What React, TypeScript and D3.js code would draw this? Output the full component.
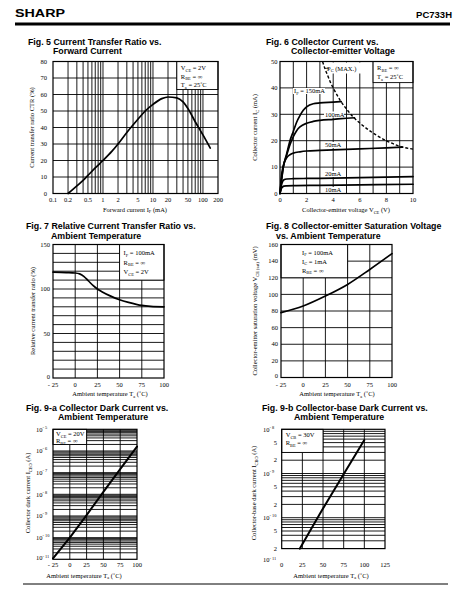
import React from "react";
import * as d3 from "d3";

const W = 467;
const H = 611;
const SERIF = '"Liberation Serif", "Times New Roman", serif';
const SANS = '"Liberation Sans", Arial, Helvetica, sans-serif';
const FS = 6.5;

// ---------- Fig. 5 data ----------
const fig5IF = [0.2, 0.25, 0.3, 0.4, 0.5, 0.7, 1, 1.5, 2, 3, 5, 7, 10, 15, 20, 30, 40, 50, 70, 100, 140];
const fig5CTR = [0, 2.5, 4.6, 8, 11, 15.5, 20, 25.5, 30, 37, 45, 50, 54, 57.5, 58.5, 58, 55.5, 51.5, 43.5, 35.5, 27.5];
const fig5XTicks = [0.1, 0.2, 0.5, 1, 2, 5, 10, 20, 50, 100, 200];
const fig5XLabels = ["0.1", "0.2", "0.5", "1", "2", "5", "10", "20", "50", "100", "200"];
const fig5YTicks = [0, 10, 20, 30, 40, 50, 60, 70, 80];

// ---------- Fig. 6 data ----------
const fig6V150 = [0, 0.1, 0.25, 0.5, 0.75, 1, 1.25, 1.5, 1.75, 2, 2.5, 3, 4, 4.6];
const fig6I150 = [0, 4.5, 10, 15, 20, 23.5, 27, 29.5, 31.5, 32.8, 34, 34.3, 34.6, 34.8];
const fig6V100 = [0, 0.1, 0.25, 0.5, 0.75, 1, 1.25, 1.5, 2, 2.5, 3, 4, 5, 5.6];
const fig6I100 = [0, 4.5, 10, 14.5, 18.5, 21.5, 23.8, 25.2, 26.6, 27.3, 27.7, 28.1, 28.5, 28.7];
const fig6V50 = [0, 0.05, 0.1, 0.2, 0.3, 0.5, 0.75, 1, 1.5, 2, 3, 4, 6, 8, 9.2];
const fig6I50 = [0, 3, 6, 9.5, 11.5, 13.5, 14.7, 15.3, 15.8, 16.1, 16.3, 16.5, 16.9, 17.3, 17.6];
const fig6V20 = [0, 0.05, 0.1, 0.2, 0.3, 0.5, 1, 2, 4, 6, 8, 10];
const fig6I20 = [0, 1.5, 3, 4.6, 5.2, 5.5, 5.6, 5.7, 5.8, 6.0, 6.2, 6.4];
const fig6V10 = [0, 0.05, 0.1, 0.2, 0.3, 0.5, 1, 3, 6, 10];
const fig6I10 = [0, 1, 1.8, 2.5, 2.8, 2.9, 3.0, 3.1, 3.3, 3.5];
const fig6PcV = [3.2, 3.4, 3.6, 3.8, 4, 4.5, 5, 5.5, 6, 7, 8, 9, 10];
const fig6PcI = [50, 47, 44.5, 42, 40, 35.5, 32, 29, 26.7, 22.9, 20, 17.9, 16.8];
const fig6XTicks = [0, 2, 4, 6, 8, 10];
const fig6YTicks = [0, 10, 20, 30, 40, 50];

// ---------- Fig. 7 data ----------
const fig7T = [-25, -10, 0, 5, 10, 15, 20, 25, 30, 40, 50, 60, 75, 85, 100];
const fig7R = [119, 118.5, 118, 117, 114, 109, 104, 100, 97, 92, 88, 85, 81.5, 80.5, 80];
const tempTicks = [-25, 0, 25, 50, 75, 100];
const tempLabels = ["- 25", "0", "25", "50", "75", "100"];
const fig7YTicks = [0, 50, 100, 150];

// ---------- Fig. 8 data ----------
const fig8T = [-25, 0, 25, 50, 75, 100];
const fig8V = [78, 86, 98, 112, 130, 149];
const fig8YTicks = [0, 20, 40, 60, 80, 100, 120, 140, 160];

// ---------- Fig. 9-a data ----------
const fig9aT = [-25, 0, 25, 50, 75, 100];
const fig9aI = [1.1e-11, 1.0e-10, 1.1e-9, 1.3e-8, 1.45e-7, 1.6e-6];
const fig9aYTicks = [1e-5, 1e-6, 1e-7, 1e-8, 1e-9, 1e-10, 1e-11];
const fig9aYExp = ["- 5", "- 6", "- 7", "- 8", "- 9", "- 10", "- 11"];

// ---------- Fig. 9-b data ----------
const fig9bT = [22, 48, 74, 100];
const fig9bI = [2e-11, 1.4e-10, 9e-10, 5.7e-9];
const fig9bXTicks = [0, 25, 50, 75, 100, 125];
const fig9bYTicks = [1e-8, 5e-9, 2e-9, 1e-9, 5e-10, 2e-10, 1e-10, 5e-11, 2e-11, 1e-11];
const fig9bYLabels = ["10^{- 8}", "5", "2", "10^{- 9}", "5", "2", "10^{- 10}", "5", "2", "10^{- 11}"];

function logGrid(lo: number, hi: number): number[] {
  const vals: number[] = [];
  for (let e = Math.floor(Math.log10(lo)) - 1; e <= Math.ceil(Math.log10(hi)); e++) {
    for (let k = 1; k <= 9; k++) {
      const v = k * Math.pow(10, e);
      if (v > lo * 1.001 && v < hi * 0.999) vals.push(v);
    }
  }
  return vals;
}

type RichProps = {
  text: string;
  x: number;
  y: number;
  size?: number;
  anchor?: "start" | "middle" | "end";
  family?: string;
  weight?: string | number;
  transform?: string;
};

function Rich({ text, x, y, size = FS, anchor = "start", family = SERIF, weight = "normal", transform }: RichProps) {
  const parts = text.split(/(_\{[^}]*\}|\^\{[^}]*\})/).filter((s) => s.length > 0);
  let shift = 0;
  const spans = parts.map((p, i) => {
    if (p.startsWith("_{")) {
      const target = size * 0.28;
      const dy = target - shift;
      shift = target;
      return (
        <tspan key={i} dy={dy} fontSize={size * 0.68}>
          {p.slice(2, -1)}
        </tspan>
      );
    }
    if (p.startsWith("^{")) {
      const target = -size * 0.42;
      const dy = target - shift;
      shift = target;
      return (
        <tspan key={i} dy={dy} fontSize={size * 0.68}>
          {p.slice(2, -1)}
        </tspan>
      );
    }
    const dy = -shift;
    shift = 0;
    return (
      <tspan key={i} dy={dy}>
        {p}
      </tspan>
    );
  });
  return (
    <text
      x={x}
      y={y}
      fontSize={size}
      fontFamily={family}
      fontWeight={weight}
      textAnchor={anchor}
      transform={transform}
      fill="#000"
      style={{ whiteSpace: "pre" }}
    >
      {spans}
    </text>
  );
}

function Title({ x, y, l1, l2, indent }: { x: number; y: number; l1: string; l2: string; indent: number }) {
  return (
    <g>
      <text x={x} y={y} fontFamily={SANS} fontWeight="bold" fontSize={8.8} fill="#000">
        {l1}
      </text>
      <text x={x + indent} y={y + 9.5} fontFamily={SANS} fontWeight="bold" fontSize={8.8} fill="#000">
        {l2}
      </text>
    </g>
  );
}

function YTitle({ text, x, cy }: { text: string; x: number; cy: number }) {
  return <Rich text={text} x={-cy} y={x} anchor="middle" transform="rotate(-90)" />;
}

const GRID = { stroke: "#000", strokeWidth: 0.9, fill: "none" } as const;
const FRAME = { stroke: "#000", strokeWidth: 1.2, fill: "none" } as const;
const CURVE = { stroke: "#000", strokeWidth: 1.7, fill: "none", strokeLinejoin: "round" as const, strokeLinecap: "round" as const };

function Fig5() {
  const x = d3.scaleLog().domain([0.1, 200]).range([53, 218]);
  const y = d3.scaleLinear().domain([0, 80]).range([193.5, 61.5]);
  const vgrid = logGrid(0.1, 200);
  const hgrid = d3.range(10, 80, 10);
  const pts = fig5IF.map((v, i) => [v, fig5CTR[i]] as [number, number]);
  const line = d3
    .line<[number, number]>()
    .x((d) => x(d[0]))
    .y((d) => y(d[1]))
    .curve(d3.curveMonotoneX);
  const bx0 = x(30), bx1 = x(200), by0 = y(80), by1 = y(63);
  return (
    <g>
      <Title x={28} y={44.5} l1="Fig. 5 Current Transfer Ratio vs." l2="Forward Current" indent={25} />
      {vgrid.map((v) => (
        <line key={"v" + v} x1={x(v)} x2={x(v)} y1={y(0)} y2={y(80)} {...GRID} />
      ))}
      {hgrid.map((v) => (
        <line key={"h" + v} x1={x(0.1)} x2={x(200)} y1={y(v)} y2={y(v)} {...GRID} />
      ))}
      <rect x={bx0} y={by0} width={bx1 - bx0} height={by1 - by0} fill="#fff" stroke="#000" strokeWidth={0.9} />
      <Rich text="V_{CE} = 2V" x={bx0 + 4} y={by0 + 8.5} />
      <Rich text="R_{BE} = ∞" x={bx0 + 4} y={by0 + 17} />
      <Rich text="T_{a} = 25˚C" x={bx0 + 4} y={by0 + 25.5} />
      <path d={line(pts) || ""} {...CURVE} />
      <rect x={x(0.1)} y={y(80)} width={x(200) - x(0.1)} height={y(0) - y(80)} {...FRAME} />
      {fig5YTicks.map((v) => (
        <Rich key={"yl" + v} text={String(v)} x={47} y={y(v) + 2.2} anchor="end" />
      ))}
      {fig5XTicks.map((v, i) => (
        <Rich key={"xl" + v} text={fig5XLabels[i]} x={x(v)} y={201.5} anchor="middle" />
      ))}
      <Rich text="Forward current I_{F} (mA)" x={135} y={211.5} anchor="middle" />
      <YTitle text="Current transfer ratio CTR (%)" x={34} cy={127.5} />
    </g>
  );
}

function Fig6() {
  const x = d3.scaleLinear().domain([0, 10]).range([280, 413]);
  const y = d3.scaleLinear().domain([0, 50]).range([193.5, 61.5]);
  const line = d3
    .line<[number, number]>()
    .x((d) => x(d[0]))
    .y((d) => y(d[1]))
    .curve(d3.curveMonotoneX);
  const series: [number[], number[]][] = [
    [fig6V150, fig6I150],
    [fig6V100, fig6I100],
    [fig6V50, fig6I50],
    [fig6V20, fig6I20],
    [fig6V10, fig6I10],
  ];
  const pc = fig6PcV.map((v, i) => [v, fig6PcI[i]] as [number, number]);
  const bx0 = x(7), bx1 = x(10), by0 = y(50), by1 = y(42);
  const labels: { t: string; x: number; y: number; w: number }[] = [
    { t: "I_{F} = 150mA", x: 294, y: 93, w: 30 },
    { t: "100mA", x: 325, y: 116.5, w: 18 },
    { t: "50mA", x: 325, y: 147, w: 15 },
    { t: "20mA", x: 325, y: 176, w: 15 },
    { t: "10mA", x: 325, y: 192, w: 15 },
  ];
  return (
    <g>
      <Title x={266} y={44.5} l1="Fig. 6 Collector Current vs." l2="Collector-emitter Voltage" indent={25} />
      {d3.range(1, 10).map((v) => (
        <line key={"v" + v} x1={x(v)} x2={x(v)} y1={y(0)} y2={y(50)} {...GRID} />
      ))}
      {d3.range(10, 50, 10).map((v) => (
        <line key={"h" + v} x1={x(0)} x2={x(10)} y1={y(v)} y2={y(v)} {...GRID} />
      ))}
      {labels.map((l, i) => (
        <rect key={"lb" + i} x={l.x - 1} y={l.y - 5} width={l.w + 2} height={6} fill="#fff" />
      ))}
      <rect x={326} y={y(50) + 1} width={38} height={11} fill="#fff" />
      <rect x={bx0} y={by0} width={bx1 - bx0} height={by1 - by0} fill="#fff" stroke="#000" strokeWidth={0.9} />
      <Rich text="R_{BE} = ∞" x={bx0 + 4} y={by0 + 8.5} />
      <Rich text="T_{a} = 25˚C" x={bx0 + 4} y={by0 + 17.5} />
      {series.map(([vs, is], k) => (
        <path key={"c" + k} d={line(vs.map((v, i) => [v, is[i]] as [number, number])) || ""} {...CURVE} />
      ))}
      <path d={line(pc) || ""} stroke="#000" strokeWidth={1.4} fill="none" strokeDasharray="3,2" />
      <line x1={x(3.38)} x2={x(3.38) + 4} y1={68.3} y2={68.3} stroke="#000" strokeWidth={0.8} />
      <Rich text="P_{C} (MAX.)" x={327} y={70.5} />
      {labels.map((l, i) => (
        <Rich key={"lt" + i} text={l.t} x={l.x} y={l.y} />
      ))}
      <rect x={x(0)} y={y(50)} width={x(10) - x(0)} height={y(0) - y(50)} {...FRAME} />
      {fig6YTicks.map((v) => (
        <Rich key={"yl" + v} text={String(v)} x={277.5} y={y(v) + 2.2} anchor="end" />
      ))}
      {fig6XTicks.map((v) => (
        <Rich key={"xl" + v} text={String(v)} x={x(v)} y={201.5} anchor="middle" />
      ))}
      <Rich text="Collector-emitter voltage V_{CE} (V)" x={346} y={212} anchor="middle" />
      <YTitle text="Collector current I_{C} (mA)" x={257} cy={127.5} />
    </g>
  );
}

function Fig7() {
  const x = d3.scaleLinear().domain([-25, 100]).range([53, 164]);
  const y = d3.scaleLinear().domain([0, 150]).range([378, 244.5]);
  const line = d3
    .line<[number, number]>()
    .x((d) => x(d[0]))
    .y((d) => y(d[1]))
    .curve(d3.curveMonotoneX);
  const pts = fig7T.map((v, i) => [v, fig7R[i]] as [number, number]);
  const bx0 = x(50), bx1 = x(100), by0 = y(150), by1 = y(110);
  return (
    <g>
      <Title x={26} y={229} l1="Fig. 7 Relative Current Transfer Ratio vs." l2="Ambient Temperature" indent={25} />
      {[0, 25, 50, 75].map((v) => (
        <line key={"v" + v} x1={x(v)} x2={x(v)} y1={y(0)} y2={y(150)} {...GRID} />
      ))}
      {d3.range(10, 150, 10).map((v) => (
        <line key={"h" + v} x1={x(-25)} x2={x(100)} y1={y(v)} y2={y(v)} {...GRID} />
      ))}
      <rect x={bx0} y={by0} width={bx1 - bx0} height={by1 - by0} fill="#fff" stroke="#000" strokeWidth={0.9} />
      <Rich text="I_{F} = 100mA" x={bx0 + 4} y={by0 + 10.5} />
      <Rich text="R_{BE} = ∞" x={bx0 + 4} y={by0 + 20} />
      <Rich text="V_{CE} = 2V" x={bx0 + 4} y={by0 + 29.5} />
      <path d={line(pts) || ""} {...CURVE} />
      <rect x={x(-25)} y={y(150)} width={x(100) - x(-25)} height={y(0) - y(150)} {...FRAME} />
      {fig7YTicks.map((v) => (
        <Rich key={"yl" + v} text={String(v)} x={50} y={y(v) + (v === 0 ? 0.8 : 2.2)} anchor="end" />
      ))}
      {tempTicks.map((v, i) => (
        <Rich key={"xl" + v} text={tempLabels[i]} x={x(v)} y={386.5} anchor="middle" />
      ))}
      <Rich text="Ambient temperature T_{a} (˚C)" x={110} y={396} anchor="middle" />
      <YTitle text="Relative current transfer ratio (%)" x={35} cy={311} />
    </g>
  );
}

function Fig8() {
  const x = d3.scaleLinear().domain([-25, 100]).range([281, 392]);
  const y = d3.scaleLinear().domain([0, 160]).range([377.5, 244.5]);
  const line = d3
    .line<[number, number]>()
    .x((d) => x(d[0]))
    .y((d) => y(d[1]))
    .curve(d3.curveMonotoneX);
  const pts = fig8T.map((v, i) => [v, fig8V[i]] as [number, number]);
  const bx0 = x(-25), bx1 = x(50), by0 = y(160), by1 = y(120);
  return (
    <g>
      <Title x={266} y={229} l1="Fig. 8 Collector-emitter Saturation Voltage" l2="vs. Ambient Temperature" indent={10} />
      {[0, 25, 50, 75].map((v) => (
        <line key={"v" + v} x1={x(v)} x2={x(v)} y1={y(0)} y2={y(160)} {...GRID} />
      ))}
      {d3.range(20, 160, 20).map((v) => (
        <line key={"h" + v} x1={x(-25)} x2={x(100)} y1={y(v)} y2={y(v)} {...GRID} />
      ))}
      <rect x={bx0} y={by0} width={bx1 - bx0} height={by1 - by0} fill="#fff" stroke="#000" strokeWidth={0.9} />
      <Rich text="I_{F} = 100mA" x={bx0 + 21} y={by0 + 10} />
      <Rich text="I_{C} = 1mA" x={bx0 + 21} y={by0 + 19} />
      <Rich text="R_{BE} = ∞" x={bx0 + 21} y={by0 + 28} />
      <path d={line(pts) || ""} {...CURVE} />
      <rect x={x(-25)} y={y(160)} width={x(100) - x(-25)} height={y(0) - y(160)} {...FRAME} />
      {fig8YTicks.map((v) => (
        <Rich key={"yl" + v} text={String(v)} x={278} y={y(v) + (v === 0 ? 0.8 : 2.2)} anchor="end" />
      ))}
      {tempTicks.map((v, i) => (
        <Rich key={"xl" + v} text={tempLabels[i]} x={x(v)} y={386.5} anchor="middle" />
      ))}
      <Rich text="Ambient temperature T_{a} (˚C)" x={337} y={396} anchor="middle" />
      <YTitle text="Collector-emitter saturation voltage V_{CE (sat)} (mV)" x={257} cy={311} />
    </g>
  );
}

function Fig9a() {
  const x = d3.scaleLinear().domain([-25, 100]).range([53, 137]);
  const y = d3.scaleLog().domain([1e-11, 1e-5]).range([559.3, 429.3]);
  const line = d3
    .line<[number, number]>()
    .x((d) => x(d[0]))
    .y((d) => y(d[1]));
  const pts = fig9aT.map((v, i) => [v, fig9aI[i]] as [number, number]);
  const hgrid = logGrid(1e-11, 1e-5);
  const bx0 = x(-25), bx1 = x(25), by0 = y(1e-5), by1 = y(2e-6);
  return (
    <g>
      <Title x={26} y={410.5} l1="Fig. 9-a Collector Dark Current vs." l2="Ambient Temperature" indent={32} />
      {[0, 25, 50, 75].map((v) => (
        <line key={"v" + v} x1={x(v)} x2={x(v)} y1={y(1e-11)} y2={y(1e-5)} {...GRID} />
      ))}
      {hgrid.map((v) => (
        <line key={"h" + v} x1={x(-25)} x2={x(100)} y1={y(v)} y2={y(v)} {...GRID} />
      ))}
      <rect x={bx0} y={by0} width={bx1 - bx0} height={by1 - by0} fill="#fff" stroke="#000" strokeWidth={0.9} />
      <Rich text="V_{CE} = 20V" x={bx0 + 3} y={by0 + 6.5} />
      <Rich text="R_{BE} = ∞" x={bx0 + 3} y={by0 + 14} />
      <path d={line(pts) || ""} {...CURVE} strokeWidth={2} />
      <rect x={x(-25)} y={y(1e-5)} width={x(100) - x(-25)} height={y(1e-11) - y(1e-5)} {...FRAME} />
      {fig9aYTicks.map((v, i) => (
        <Rich key={"yl" + i} text={"10^{" + fig9aYExp[i] + "}"} x={36} y={y(v) + (i === 6 ? 1 : 2.2)} />
      ))}
      {tempTicks.map((v, i) => (
        <Rich key={"xl" + v} text={tempLabels[i]} x={x(v)} y={567} anchor="middle" />
      ))}
      <Rich text="Ambient temperature T_{a} (˚C)" x={84} y={577.5} anchor="middle" />
      <YTitle text="Collector dark current I_{CEO} (A)" x={30} cy={493} />
    </g>
  );
}

function Fig9b() {
  const x = d3.scaleLinear().domain([0, 125]).range([281.7, 385]);
  const y = d3.scaleLog().domain([1e-11, 1e-8]).range([561.9, 429.3]);
  const line = d3
    .line<[number, number]>()
    .x((d) => x(d[0]))
    .y((d) => y(d[1]));
  const pts = fig9bT.map((v, i) => [v, fig9bI[i]] as [number, number]);
  const hgrid = logGrid(2e-11, 1e-8);
  const bx0 = x(0), bx1 = x(50), by0 = y(1e-8), by1 = y(3e-9);
  return (
    <g>
      <Title x={262} y={410.5} l1="Fig. 9-b Collector-base Dark Current vs." l2="Ambient Temperature" indent={32} />
      {[25, 50, 75, 100].map((v) => (
        <line key={"v" + v} x1={x(v)} x2={x(v)} y1={y(2e-11)} y2={y(1e-8)} {...GRID} />
      ))}
      {hgrid.map((v) => (
        <line key={"h" + v} x1={x(0)} x2={x(125)} y1={y(v)} y2={y(v)} {...GRID} />
      ))}
      <rect x={bx0} y={by0} width={bx1 - bx0} height={by1 - by0} fill="#fff" stroke="#000" strokeWidth={0.9} />
      <Rich text="V_{CB} = 30V" x={bx0 + 4} y={by0 + 7.5} />
      <Rich text="R_{BE} = ∞" x={bx0 + 4} y={by0 + 16} />
      <path d={line(pts) || ""} {...CURVE} strokeWidth={2} />
      <rect x={x(0)} y={y(1e-8)} width={x(125) - x(0)} height={y(2e-11) - y(1e-8)} {...FRAME} />
      {fig9bYTicks.map((v, i) => (
        <Rich
          key={"yl" + i}
          text={fig9bYLabels[i]}
          x={fig9bYLabels[i].length > 2 ? 263 : 277}
          y={y(v) + (i === 9 ? 0.5 : 2.2)}
          anchor={fig9bYLabels[i].length > 2 ? "start" : "end"}
        />
      ))}
      {fig9bXTicks.map((v) => (
        <Rich key={"xl" + v} text={String(v)} x={x(v)} y={567} anchor="middle" />
      ))}
      <Rich text="Ambient temperature T_{a} (˚C)" x={331} y={577.5} anchor="middle" />
      <YTitle text="Collector-base dark current I_{CBO} (A)" x={256} cy={493} />
    </g>
  );
}

function Header() {
  return (
    <g>
      <text
        x={15}
        y={17}
        fontFamily={SANS}
        fontWeight={900}
        fontSize={10}
        textLength={50}
        lengthAdjust="spacingAndGlyphs"
        fill="#000"
      >
        SHARP
      </text>
      <text x={452} y={18} fontFamily={SANS} fontWeight="bold" fontSize={9.5} textAnchor="end" fill="#000">
        PC733H
      </text>
      <rect x={15} y={22.5} width={435} height={3} fill="#000" />
      <line x1={23} x2={448} y1={584} y2={584} stroke="#000" strokeWidth={1} />
    </g>
  );
}

export default function App() {
  return (
    <svg
      width={W}
      height={H}
      viewBox={`0 0 ${W} ${H}`}
      style={{ position: "absolute", left: 0, top: 0, background: "#fff" }}
    >
      <rect width={W} height={H} fill="#fff" />
      <Header />
      <Fig5 />
      <Fig6 />
      <Fig7 />
      <Fig8 />
      <Fig9a />
      <Fig9b />
    </svg>
  );
}
